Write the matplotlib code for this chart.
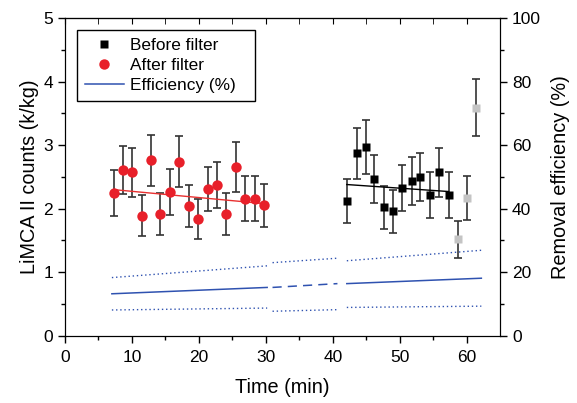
import matplotlib.pyplot as plt
from matplotlib.lines import Line2D
import numpy as np

plt.rcParams['font.family'] = ['Liberation Sans', 'DejaVu Sans']

# After filter (red circles)
t_after = [7.25, 8.7, 10.05, 11.45, 12.85, 14.25, 15.7, 17.05, 18.45, 19.9,
           21.3, 22.7, 24.1, 25.5, 26.95, 28.35, 29.7]
n_after = [2.25, 2.61, 2.57, 1.89, 2.76, 1.91, 2.26, 2.74, 2.04, 1.84,
           2.31, 2.37, 1.91, 2.66, 2.16, 2.16, 2.05]
e_after = [0.36, 0.38, 0.38, 0.32, 0.40, 0.33, 0.36, 0.40, 0.33, 0.32,
           0.35, 0.36, 0.33, 0.39, 0.35, 0.35, 0.34]

# Before filter (black squares)
t_before = [42.1, 43.55, 44.95, 46.2, 47.6, 49.05, 50.4, 51.8, 53.1, 54.55, 55.9, 57.3]
n_before = [2.12, 2.87, 2.97, 2.47, 2.02, 1.96, 2.32, 2.44, 2.50, 2.22, 2.57, 2.22]
e_before = [0.35, 0.40, 0.42, 0.38, 0.34, 0.34, 0.36, 0.38, 0.38, 0.36, 0.39, 0.36]

# Before filter, excluded points (grey)
t_excl = [58.65, 60.0, 61.4]
n_excl = [1.52, 2.17, 3.59]
e_excl = [0.29, 0.35, 0.45]

# Trend lines (start, end)
trend_after_t = [7.25, 29.7]
trend_after_n = [2.30, 2.08]
trend_before_t = [42.1, 57.3]
trend_before_n = [2.38, 2.27]

# Removal efficiency (%) with confidence bounds, three segments
eff_t = [[7.0, 30.2], [31.0, 40.7], [42.1, 62.2]]
eff_mid = [[13.2, 15.2], [15.2, 16.4], [16.4, 18.1]]
eff_hi = [[18.3, 22.0], [23.0, 24.4], [23.6, 26.9]]
eff_lo = [[8.1, 8.7], [7.7, 8.2], [8.9, 9.3]]

fig = plt.figure(figsize=(5.77, 4.03), dpi=100)
ax = fig.add_axes([0.1127, 0.167, 0.754, 0.788])

ebar = dict(fmt='none', ecolor='#333333', elinewidth=1.2, capsize=3, capthick=1.2, zorder=2)
ax.errorbar(t_after, n_after, yerr=e_after, **ebar)
ax.errorbar(t_before, n_before, yerr=e_before, **ebar)
ax.errorbar(t_excl, n_excl, yerr=e_excl, **ebar)

ax.plot(trend_after_t, trend_after_n, color='#e83030', lw=1, zorder=3)
ax.plot(trend_before_t, trend_before_n, color='black', lw=1, zorder=3)

ax.plot(t_after, n_after, 'o', color='#e8202a', ms=7.5, mec='none', zorder=4)
ax.plot(t_before, n_before, 's', color='black', ms=5.5, mec='none', zorder=4)
ax.plot(t_excl, n_excl, 's', color='#c4c4c4', ms=5.5, mec='none', zorder=4)

ax.set_xlim(0, 65)
ax.set_ylim(0, 5)
ax.set_xticks([0, 10, 20, 30, 40, 50, 60])
ax.set_xticks(np.arange(5, 65, 10), minor=True)
ax.set_yticks([0, 1, 2, 3, 4, 5])
ax.set_yticks(np.arange(0.5, 5, 1), minor=True)
ax.tick_params(which='major', direction='out', length=5, width=1, labelsize=12.5)
ax.tick_params(which='minor', direction='out', length=3, width=1)
ax.tick_params(axis='x', which='major', pad=5.5)
ax.set_xlabel('Time (min)', fontsize=14.3, labelpad=9)
ax.set_ylabel('LiMCA II counts (k/kg)', fontsize=14.3, labelpad=3)

top = ax.secondary_xaxis('top')
top.set_xticks([0, 10, 20, 30, 40, 50, 60])
top.set_xticks(np.arange(5, 65, 10), minor=True)
top.tick_params(which='both', direction='in', length=4, labeltop=False)

ax2 = ax.twinx()
blue = '#2f52b0'
for i in range(len(eff_t)):
    ls = '-' if i != 1 else (0, (6, 4))
    ax2.plot(eff_t[i], eff_mid[i], color=blue, lw=1.1, ls=ls)
    ax2.plot(eff_t[i], eff_hi[i], color=blue, lw=1, ls=(0, (1, 2)))
    ax2.plot(eff_t[i], eff_lo[i], color=blue, lw=1, ls=(0, (1, 2)))
ax2.set_ylim(0, 100)
ax2.set_yticks([0, 20, 40, 60, 80, 100])
ax2.set_yticks(np.arange(10, 100, 20), minor=True)
ax2.tick_params(which='major', direction='out', length=5, width=1, labelsize=12.5)
ax2.tick_params(which='minor', direction='out', length=3, width=1)
ax2.set_ylabel('Removal efficiency (%)', fontsize=14.3, labelpad=7)

handles = [
    Line2D([], [], marker='s', color='black', ls='none', ms=5.5, mec='none'),
    Line2D([], [], marker='o', color='#e8202a', ls='none', ms=7.5, mec='none'),
    Line2D([], [], color=blue, lw=1.1),
]
labels = ['Before filter', 'After filter', 'Efficiency (%)']
leg = ax.legend(handles, labels, loc='upper left', bbox_to_anchor=(0.027, 0.5, 0.41, 0.463),
                mode='expand', borderaxespad=0, fontsize=12.4, fancybox=False,
                edgecolor='black', framealpha=1, handlelength=2.3, handletextpad=0.35,
                labelspacing=0.3, borderpad=0.45)
leg.get_frame().set_linewidth(1)

fig.savefig('out.png', dpi=100)
